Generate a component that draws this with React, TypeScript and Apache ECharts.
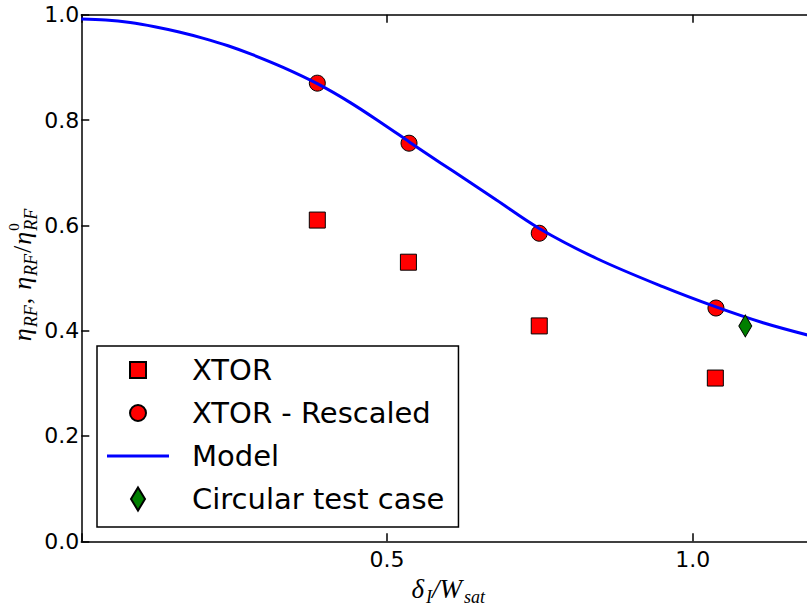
import React, { useEffect, useRef } from 'react';
import * as echarts from 'echarts';

// XTOR raw points
const xtorX = [0.386, 0.535, 0.749, 1.037];
const xtorY = [0.61, 0.53, 0.409, 0.31];
// XTOR rescaled points
const rescaledX = [0.386, 0.536, 0.749, 1.038];
const rescaledY = [0.87, 0.756, 0.585, 0.443];
// Circular test case
const circX = [1.086];
const circY = [0.409];
// Model curve
const modelX = [0, 0.04, 0.08, 0.12, 0.16, 0.2, 0.24, 0.28, 0.33, 0.386, 0.44, 0.494, 0.537, 0.587, 0.63, 0.679, 0.749, 0.843, 0.952, 1.038, 1.115, 1.2];
const modelY = [0.992, 0.99, 0.985, 0.977, 0.967, 0.955, 0.941, 0.924, 0.9, 0.869, 0.833, 0.792, 0.758, 0.719, 0.686, 0.648, 0.594, 0.537, 0.483, 0.445, 0.415, 0.388];
// Axis ticks
const xTickLabels = [0.5, 1.0];
const yTickLabels = [0, 0.2, 0.4, 0.6, 0.8, 1.0];

const seriesNames = ['XTOR', 'XTOR - Rescaled', 'Model', 'Circular test case'];

const zip = (xs: number[], ys: number[]) => xs.map((x, i) => [x, ys[i]]);

export default function App() {
  const ref = useRef<HTMLDivElement>(null);
  useEffect(() => {
    if (!ref.current) return;
    const chart = echarts.init(ref.current, null, { renderer: 'svg' });

    const ctx = document.createElement('canvas').getContext('2d')!;
    const measure = (t: string, font: string) => {
      ctx.font = font;
      return ctx.measureText(t).width;
    };

    const serif = '"Liberation Serif"';
    const M = 26;
    const S = 18;
    const P = 15;
    const mainF = `italic ${M}px ${serif}`;
    const upF = `${M}px ${serif}`;
    const subF = `italic ${S}px ${serif}`;
    const supF = `${P}px ${serif}`;

    // baseline offsets in local coords; +y = toward the axis after rotation
    const mainC = 3 - 0.34 * M;
    const subC = 9 - 0.34 * S;
    const supC = -9 - 0.34 * P;
    type Piece = { t: string; f: string; c: number; stackNext?: boolean; gapAfter?: number };
    const pieces: Piece[] = [
      { t: 'η', f: mainF, c: mainC },
      { t: 'RF', f: subF, c: subC },
      { t: ',', f: upF, c: mainC, gapAfter: 7 },
      { t: 'η', f: mainF, c: mainC },
      { t: 'RF', f: subF, c: subC },
      { t: '/', f: upF, c: mainC },
      { t: 'η', f: mainF, c: mainC },
      { t: '0', f: supF, c: supC, stackNext: true },
      { t: 'RF', f: subF, c: subC },
    ];
    const placed: { t: string; f: string; c: number; x: number }[] = [];
    let cur = 0;
    for (let i = 0; i < pieces.length; i++) {
      const p = pieces[i];
      const w = measure(p.t, p.f);
      placed.push({ t: p.t, f: p.f, c: p.c, x: cur });
      if (p.stackNext) {
        const n = pieces[i + 1];
        const wn = measure(n.t, n.f);
        placed.push({ t: n.t, f: n.f, c: n.c, x: cur });
        cur += Math.max(w, wn);
        i++;
      } else {
        cur += w + (p.gapAfter || 0) + 1;
      }
    }
    const total = cur;
    const yLabelChildren = placed.map((p) => ({
      type: 'text',
      x: p.x - total / 2,
      y: p.c,
      style: {
        text: p.t,
        font: p.f,
        fill: '#000',
        align: 'left',
        verticalAlign: 'middle',
      },
    }));

    const axisLineStyle = { color: '#000', width: 1.5 };
    const tickStyle = { show: true, inside: true, length: 8, lineStyle: { color: '#000', width: 1.5 } };
    const labelFont = { fontFamily: 'DejaVu Sans', fontSize: 22, color: '#000' };

    const option: any = {
      animation: false,
      backgroundColor: '#fff',
      grid: {
        left: 81.3,
        top: 14.7,
        width: 733.7,
        height: 526.6,
        containLabel: false,
        outerBoundsMode: 'none',
      },
      legend: {
        orient: 'vertical',
        left: 97,
        top: 346,
        padding: [9, 14, 13, 10],
        itemGap: 13,
        itemWidth: 62,
        itemHeight: 23,
        borderColor: '#000',
        borderWidth: 1.5,
        borderRadius: 0,
        backgroundColor: '#fff',
        selectedMode: false,
        textStyle: {
          fontFamily: 'DejaVu Sans',
          fontSize: 29,
          lineHeight: 30,
          color: '#000',
          padding: [0, 0, 0, 18],
        },
        data: [
          { name: seriesNames[0], icon: 'path://M0,0M23,23M3.5,3.5h16v16h-16z' },
          { name: seriesNames[1], icon: 'path://M0,0M23,23M3.5,11.5a8,8 0 1,0 16,0a8,8 0 1,0 -16,0z' },
          { name: seriesNames[2], icon: 'path://M0,0h62v3h-62z', itemStyle: { color: '#0000ff', borderWidth: 0 } },
          { name: seriesNames[3], icon: 'path://M7,0L14,11.5L7,23L0,11.5z' },
        ],
      },
      xAxis: [
        {
          type: 'value',
          position: 'bottom',
          min: 0,
          max: 1.2,
          interval: 0.5,
          axisLine: { onZero: false, lineStyle: axisLineStyle },
          axisTick: tickStyle,
          splitLine: { show: false },
          axisLabel: {
            ...labelFont,
            margin: 7,
            showMaxLabel: false,
            formatter: (v: number) => (xTickLabels.some((t) => Math.abs(t - v) < 1e-9) ? v.toFixed(1) : ''),
          },
          name: '{m|δ}{s|I}{m|/W}{s|sat}',
          nameLocation: 'middle',
          nameGap: 34,
          nameTextStyle: {
            rich: {
              m: { fontFamily: 'Liberation Serif', fontStyle: 'italic', fontSize: 27, lineHeight: 28, verticalAlign: 'top', color: '#000' },
              s: { fontFamily: 'Liberation Serif', fontStyle: 'italic', fontSize: 18, lineHeight: 44, verticalAlign: 'middle', color: '#000', padding: [0, 0, 0, 2] },
            },
          },
        },
        {
          type: 'value',
          position: 'top',
          min: 0,
          max: 1.2,
          interval: 0.5,
          axisLine: { onZero: false, lineStyle: axisLineStyle },
          axisTick: tickStyle,
          splitLine: { show: false },
          axisLabel: { show: false },
        },
      ],
      yAxis: [
        {
          type: 'value',
          position: 'left',
          min: 0,
          max: 1,
          interval: 0.2,
          axisLine: { onZero: false, lineStyle: axisLineStyle },
          axisTick: tickStyle,
          splitLine: { show: false },
          axisLabel: {
            ...labelFont,
            margin: 2,
            formatter: (v: number) => (yTickLabels.some((t) => Math.abs(t - v) < 1e-9) ? v.toFixed(1) : ''),
          },
        },
        {
          type: 'value',
          position: 'right',
          min: 0,
          max: 1,
          interval: 0.2,
          axisLine: { onZero: false, lineStyle: axisLineStyle },
          axisTick: tickStyle,
          splitLine: { show: false },
          axisLabel: { show: false },
        },
      ],
      graphic: [
        {
          type: 'group',
          x: 28,
          y: 275,
          rotation: Math.PI / 2,
          children: yLabelChildren,
        },
      ],
      series: [
        {
          name: seriesNames[0],
          type: 'scatter',
          symbol: 'rect',
          symbolSize: 16,
          itemStyle: { color: '#ff0000', borderColor: '#000', borderWidth: 1, opacity: 1 },
          data: zip(xtorX, xtorY),
          z: 2,
        },
        {
          name: seriesNames[1],
          type: 'scatter',
          symbol: 'circle',
          symbolSize: 16,
          itemStyle: { color: '#ff0000', borderColor: '#000', borderWidth: 1, opacity: 1 },
          data: zip(rescaledX, rescaledY),
          z: 2,
        },
        {
          name: seriesNames[2],
          type: 'line',
          symbol: 'none',
          showSymbol: false,
          smooth: 0.35,
          lineStyle: { color: '#0000ff', width: 3 },
          itemStyle: { color: '#0000ff' },
          data: zip(modelX, modelY),
          z: 3,
        },
        {
          name: seriesNames[3],
          type: 'scatter',
          symbol: 'diamond',
          symbolSize: [13, 22],
          itemStyle: { color: '#007f00', borderColor: '#000', borderWidth: 1, opacity: 1 },
          data: zip(circX, circY),
          z: 4,
        },
      ],
    };
    chart.setOption(option);
    return () => chart.dispose();
  }, []);

  return (
    <div
      style={{
        position: 'fixed',
        left: 0,
        top: 0,
        width: 807,
        height: 607,
        overflow: 'hidden',
        background: '#fff',
      }}
    >
      <div ref={ref} style={{ width: 850, height: 607 }} />
    </div>
  );
}
